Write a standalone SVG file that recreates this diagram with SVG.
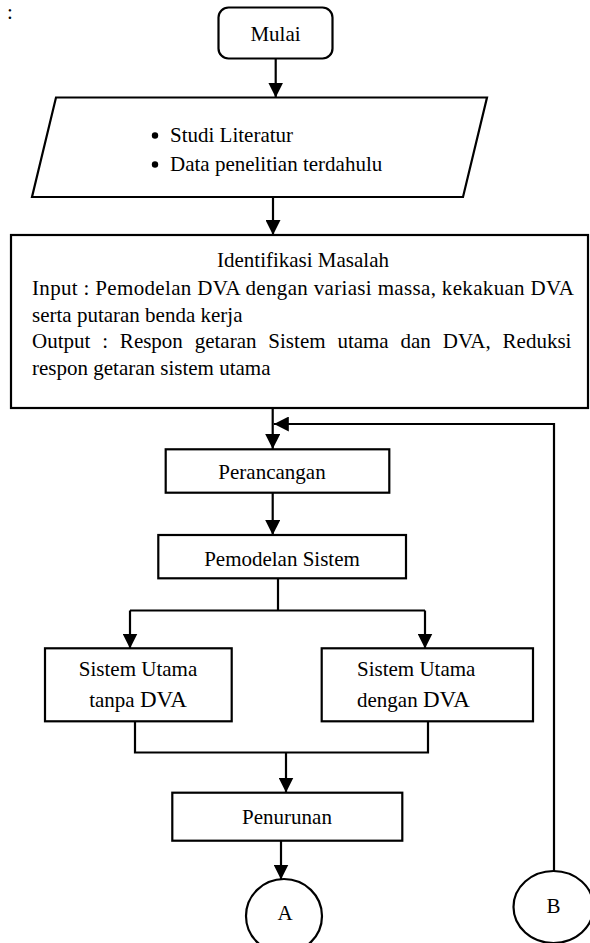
<svg xmlns="http://www.w3.org/2000/svg" width="590" height="943" viewBox="0 0 590 943">
<style>
.b{fill:#fff;stroke:#000;stroke-width:2.2}
.c{fill:none;stroke:#000;stroke-width:2.2}
text{font-family:"Liberation Serif","Times New Roman",serif;font-size:21px;fill:#000}
.m{text-anchor:middle}
.big{font-size:23px}
</style>
<defs>
<marker id="ah" markerUnits="userSpaceOnUse" markerWidth="15" markerHeight="15" refX="14" refY="7" orient="auto" viewBox="0 0 14 14">
<path d="M0,0 L14,7 L0,14 z" fill="#000"/>
</marker>
</defs>
<text x="7" y="19" font-size="19">:</text>
<g id="connectors">
<line class="c" x1="275.7" y1="58" x2="275.7" y2="97.5" marker-end="url(#ah)"/>
<line class="c" x1="273" y1="197" x2="273" y2="235" marker-end="url(#ah)"/>
<line class="c" x1="272.7" y1="408" x2="272.7" y2="449" marker-end="url(#ah)"/>
<polyline class="c" points="554,871 554,424 273.8,424" marker-end="url(#ah)"/>
<line class="c" x1="272.7" y1="493" x2="272.7" y2="535" marker-end="url(#ah)"/>
<line class="c" x1="278" y1="578" x2="278" y2="610.5"/>
<line class="c" x1="130" y1="610.5" x2="425" y2="610.5"/>
<line class="c" x1="130" y1="610.5" x2="130" y2="648.5" marker-end="url(#ah)"/>
<line class="c" x1="425" y1="610.5" x2="425" y2="648.5" marker-end="url(#ah)"/>
<polyline class="c" points="135,721 135,752.5 428,752.5 428,721"/>
<line class="c" x1="286" y1="752.5" x2="286" y2="792.5" marker-end="url(#ah)"/>
<line class="c" x1="281" y1="840.5" x2="281" y2="879.5" marker-end="url(#ah)"/>
</g>
<g id="mulai">
<rect class="b" x="218.5" y="7.5" width="114" height="51" rx="10"/>
<text class="m" x="275.5" y="40.5">Mulai</text>
</g>
<g id="studi">
<polygon class="b" points="56,97.5 487,97.5 463,197 32,197"/>
<circle cx="155" cy="135.5" r="3.2"/>
<circle cx="155" cy="164.5" r="3.2"/>
<text x="170" y="141.5">Studi Literatur</text>
<text x="170" y="170.5">Data penelitian terdahulu</text>
</g>
<g id="identifikasi">
<rect class="b" x="11" y="235" width="577" height="173"/>
<text class="m" x="303" y="267">Identifikasi Masalah</text>
<text x="32" y="295" textLength="542" lengthAdjust="spacing">Input : Pemodelan DVA dengan variasi massa, kekakuan DVA</text>
<text x="32" y="322">serta putaran benda kerja</text>
<text x="32" y="348" word-spacing="6.6">Output : Respon getaran Sistem utama dan DVA, Reduksi</text>
<text x="32" y="375">respon getaran sistem utama</text>
</g>
<g id="perancangan">
<rect class="b" x="165.7" y="449.3" width="223.6" height="43.4"/>
<text class="m" x="272" y="479.3">Perancangan</text>
</g>
<g id="pemodelan">
<rect class="b" x="158.3" y="535" width="247.7" height="43.3"/>
<text class="m" x="282" y="565.7">Pemodelan Sistem</text>
</g>
<g id="tanpa">
<rect class="b" x="45" y="648.3" width="186.7" height="73"/>
<text class="m" x="138" y="676">Sistem Utama</text>
<text class="m" x="138" y="706.7">tanpa <tspan class="big">DVA</tspan></text>
</g>
<g id="dengan">
<rect class="b" x="321.7" y="648.3" width="211.3" height="73"/>
<text x="357" y="676">Sistem Utama</text>
<text x="357" y="706.7">dengan <tspan class="big">DVA</tspan></text>
</g>
<g id="penurunan">
<rect class="b" x="172.3" y="792.7" width="230" height="48"/>
<text class="m" x="287" y="824">Penurunan</text>
</g>
<g id="A">
<ellipse class="b" cx="284" cy="916" rx="38" ry="37"/>
<text class="m" x="285" y="920" font-size="20">A</text>
</g>
<g id="B">
<ellipse class="b" cx="553.5" cy="907" rx="40" ry="36"/>
<text class="m" x="553.5" y="913" font-size="20">B</text>
</g>
</svg>
